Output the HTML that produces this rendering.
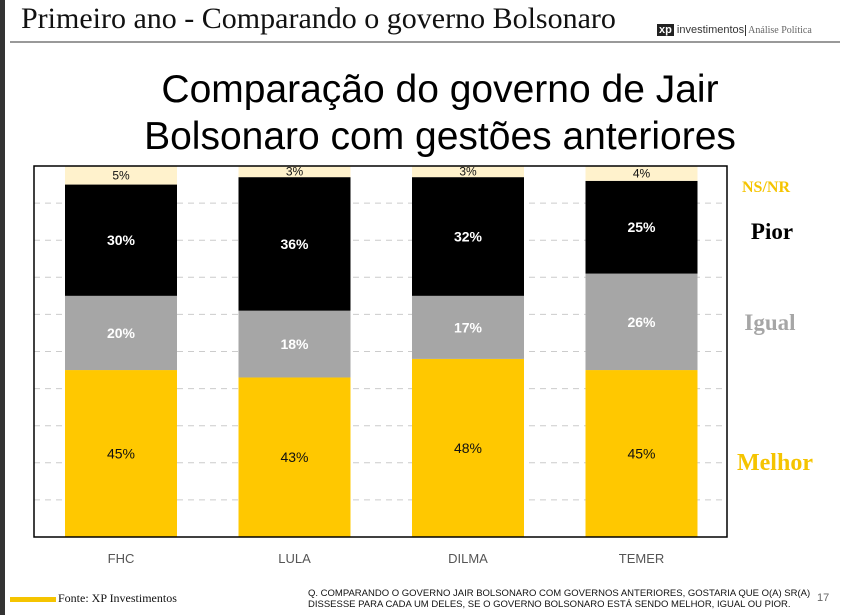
<!DOCTYPE html>
<html><head><meta charset="utf-8"><style>
body{margin:0;width:849px;height:615px;background:#fff;position:relative;overflow:hidden;font-family:"Liberation Sans",sans-serif}
.abs{position:absolute}
</style></head><body>
<div class="abs" style="left:0;top:0;width:5px;height:615px;background:#333"></div>
<div class="abs" style="left:21px;top:2px;font-family:'Liberation Serif',serif;font-size:30px;color:#111">Primeiro ano - Comparando o governo Bolsonaro</div>
<div class="abs" style="left:10px;top:41px;width:830px;height:2px;background:#999"></div>
<div class="abs" style="left:657px;top:24px;font-size:11px;color:#333;white-space:nowrap"><span style="background:#222;color:#fff;font-weight:bold;padding:0 2px">xp</span> investimentos<span style="border-left:1px solid #333;margin-left:1px;padding-left:2px;font-family:'Liberation Serif',serif;color:#666;font-size:10px">Análise Política</span></div>
<div class="abs" style="left:0;width:880px;top:66px;text-align:center;font-size:39px;line-height:47px;color:#000">Comparação do governo de Jair<br>Bolsonaro com gestões anteriores</div>
<svg class="abs" style="left:0;top:0" width="849" height="615" id="chart"></svg>
<div class="abs" style="left:10px;top:597px;width:46px;height:5px;background:#f5c400"></div>
<div class="abs" style="left:58px;top:591px;font-family:'Liberation Serif',serif;font-size:12px;color:#111">Fonte: XP Investimentos</div>
<div class="abs" style="left:308px;top:588px;font-size:9.5px;line-height:11px;color:#111">Q. COMPARANDO O GOVERNO JAIR BOLSONARO COM GOVERNOS ANTERIORES, GOSTARIA QUE O(A) SR(A)<br>DISSESSE PARA CADA UM DELES, SE O GOVERNO BOLSONARO ESTÁ SENDO MELHOR, IGUAL OU PIOR.</div>
<div class="abs" style="left:817px;top:592px;font-size:11px;color:#666">17</div>
<script>
const categories=["FHC","LULA","DILMA","TEMER"];
const melhor=[45,43,48,45];
const igual=[20,18,17,26];
const pior=[30,36,32,25];
const nsnr=[5,3,3,4];
const svg=document.getElementById('chart');
const NS='http://www.w3.org/2000/svg';
const x0=34,x1=727,yB=537,yT=166,bw=112;
const y=v=>yB-(yB-yT)*v/100;
const xc=i=>121+i*173.5;
function mk(t,a){const e=document.createElementNS(NS,t);for(const k in a)e.setAttribute(k,a[k]);svg.appendChild(e);return e;}
for(let g=1;g<=9;g++){const yy=yB-g*37.1;
const l=mk('line',{x1:x0,x2:x1,y1:yy,y2:yy,stroke:'#ccc','stroke-dasharray':'6,5'});

}
const series=[[melhor,'#ffc800','#111','melhor'],[igual,'#a6a6a6','#fff','igual'],[pior,'#000','#fff','pior'],[nsnr,'#fff2cc','#111','nsnr']];
categories.forEach((c,i)=>{let acc=0;
series.forEach(([arr,fill,tc,nm])=>{const v=arr[i];const yt=y(acc+v),yb=y(acc);
const r=mk('rect',{x:xc(i)-bw/2,y:yt,width:bw,height:yb-yt,fill:fill});


const small=nm==='nsnr';
const t=mk('text',{x:xc(i),y:(yt+yb)/2+(small?4:5),'text-anchor':'middle','font-size':small?12:14,'font-weight':(small||nm==='melhor')?'normal':'bold',fill:tc,'font-family':'Liberation Sans, sans-serif'});
t.textContent=v+'%';


acc+=v;});
const xl=mk('text',{x:xc(i),y:563,'text-anchor':'middle','font-size':13,fill:'#555','font-family':'Liberation Sans, sans-serif'});
xl.textContent=c;

});
const fr=mk('rect',{x:x0,y:yT,width:x1-x0,height:yB-yT,fill:'none',stroke:'#000','stroke-width':1.5});


[['NS/NR',766,192,16,'#f5c400'],['Pior',772,239,23,'#000'],['Igual',770,330,23,'#a6a6a6'],['Melhor',775,470,24,'#f5c400']].forEach(([s,xx,yy,fs,col])=>{
const t=mk('text',{x:xx,y:yy,'text-anchor':'middle','font-size':fs,'font-weight':'bold',fill:col,'font-family':'Liberation Serif, serif'});
t.textContent=s;

});
</script>
</body></html>
